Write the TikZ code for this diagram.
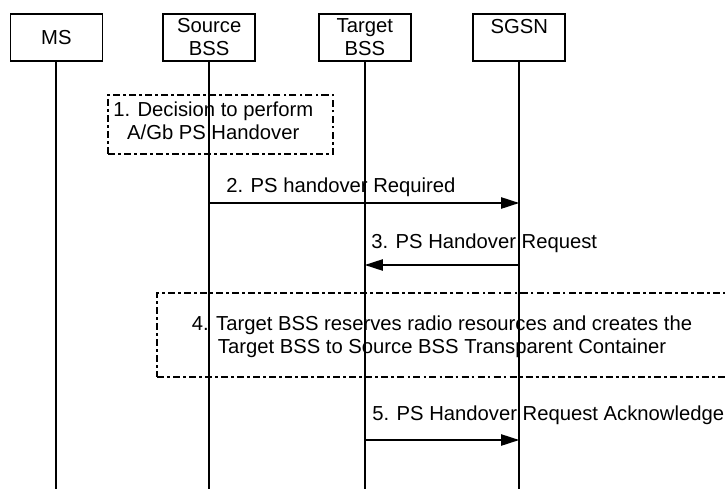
\documentclass[tikz,border=0pt]{standalone}
\usepackage{fontspec}
\setmainfont{Liberation Sans}
\usetikzlibrary{arrows.meta}

\begin{document}
\begin{tikzpicture}[
	font=\fontsize{14.4pt}{16.4pt}\selectfont,
	entity/.style={draw,line width=1.1pt,minimum width=2.3cm,minimum height=1.175cm,inner sep=0pt,align=center},
	lifeline/.style={line width=1.3pt},
	msg/.style={line width=1.1pt,-{Triangle[length=4.5mm,width=2.8mm]}},
	procbox/.style={draw,line width=1.1pt,dash pattern=on 5pt off 2.2pt on 2pt off 2.2pt,inner sep=0pt},
	msgtxt/.style={anchor=west,inner sep=0pt}]
	\useasboundingbox (0,0) rectangle (18.125,12.225);

	\node[entity] (ms) at (1.41,11.2875) {MS}; % mobile station
	\node[entity] (sbss) at (5.23,11.2875) {Source\\BSS}; % source bss
	\node[entity] (tbss) at (9.12,11.2875) {Target\\BSS}; % target bss
	\node[entity] (sgsn) at (12.98,11.2875) {SGSN\\\mbox{}}; % sgsn

	\coordinate (msend) at (1.41,0);
	\coordinate (sbssend) at (5.23,0);
	\coordinate (tbssend) at (9.12,0);
	\coordinate (sgsnend) at (12.98,0);

	\draw[lifeline] (ms.south) -- (msend);
	\draw[lifeline] (sbss.south) -- (sbssend);
	\draw[lifeline] (tbss.south) -- (tbssend);
	\draw[lifeline] (sgsn.south) -- (sgsnend);

	% step 1
	\node[procbox,minimum width=5.625cm,minimum height=1.475cm] (decide) at (5.5125,9.1125) {};
	\node[align=center,inner sep=0pt] (decidetxt) at (5.33,9.2125) {1. Decision to perform\\A/Gb PS Handover};

	% step 2
	\coordinate (sbss2) at (5.23,7.15);
	\coordinate (sgsn2) at (12.98,7.15);
	\draw[msg] (sbss2) -- (sgsn2);
	\node[msgtxt] (req) at (5.65,7.55) {2. PS handover Required};

	% step 3
	\coordinate (sgsn3) at (12.98,5.6);
	\coordinate (tbss3) at (9.12,5.6);
	\draw[msg] (sgsn3) -- (tbss3);
	\node[msgtxt] (horeq) at (9.275,6.15) {3. PS Handover Request};

	% step 4
	\node[procbox,minimum width=14.8cm,minimum height=2.1cm] (reserve) at (11.325,3.85) {};
	\node[align=center,inner sep=0pt] (reservetxt) at (11.05,3.8125) {4. Target BSS reserves radio resources and creates the\\Target BSS to Source BSS Transparent Container};

	% step 5
	\coordinate (tbss5) at (9.12,1.225);
	\coordinate (sgsn5) at (12.98,1.225);
	\draw[msg] (tbss5) -- (sgsn5);
	\node[msgtxt] (hoack) at (9.3,1.85) {5. PS Handover Request Acknowledge};
\end{tikzpicture}
\end{document}
